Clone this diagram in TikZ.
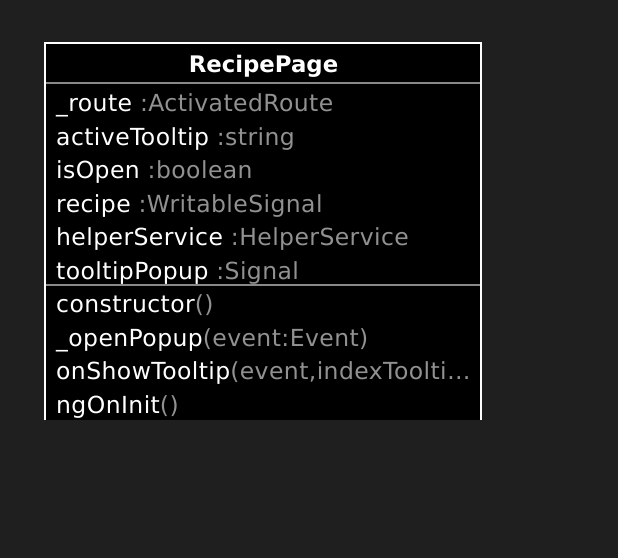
\documentclass[tikz,border=0pt]{standalone}
\usepackage{fontspec}
\setmainfont{DejaVu Sans}[LetterSpace=1.8,BoldFeatures={LetterSpace=0}]
\usetikzlibrary{positioning}
\usepackage{xcolor}
\definecolor{canvas}{RGB}{31,31,31}
\definecolor{sepgray}{RGB}{136,136,136}
\definecolor{typegray}{RGB}{145,145,145}
\newcommand{\ty}[1]{\textcolor{typegray}{#1}}

\begin{document}
\begin{tikzpicture}[x=1pt,y=-1pt,
    member/.style={anchor=base west,inner sep=0pt,text=white,font=\fontsize{23.5}{27}\selectfont},
    classname/.style={anchor=base,inner sep=0pt,text=white,font=\fontsize{22.8}{27}\selectfont\bfseries}]
    \fill[canvas] (0,0) rectangle (618,558);
    % class box, open at the bottom
    \fill[black] (44,42) rectangle (482,420);
    \draw[white,line width=2pt] (45,420)--(45,43)--(481,43)--(481,420);
    \node[classname] (head) at (263.5,72.5) {RecipePage};
    \node[member] (route) at (56,111.5) {\_route \ty{:ActivatedRoute}};
    \node[member] (tip) at (56,145) {activeTooltip \ty{:string}};
    \node[member] (open) at (56,178.5) {isOpen \ty{:boolean}};
    \node[member] (recipe) at (56,212) {recipe \ty{:WritableSignal}};
    \node[member] (helper) at (56,245.5) {helperService \ty{:HelperService}};
    \node[member] (popup) at (56,279) {tooltipPopup \ty{:Signal}};
    \node[member] (ctor) at (56,312.5) {constructor\ty{()}};
    \node[member] (openpop) at (56,346) {\_openPopup\ty{(event:Event)}};
    \node[member] (show) at (56,379.5) {onShowTooltip\ty{(event,indexToolti…}};
    \node[member] (init) at (56,413) {ngOnInit\ty{()}};
    % compartment rules
    \draw[sepgray,line width=2pt] (46,83)--(480,83);
    \draw[sepgray,line width=2pt] (46,285)--(480,285);
\end{tikzpicture}
\end{document}
